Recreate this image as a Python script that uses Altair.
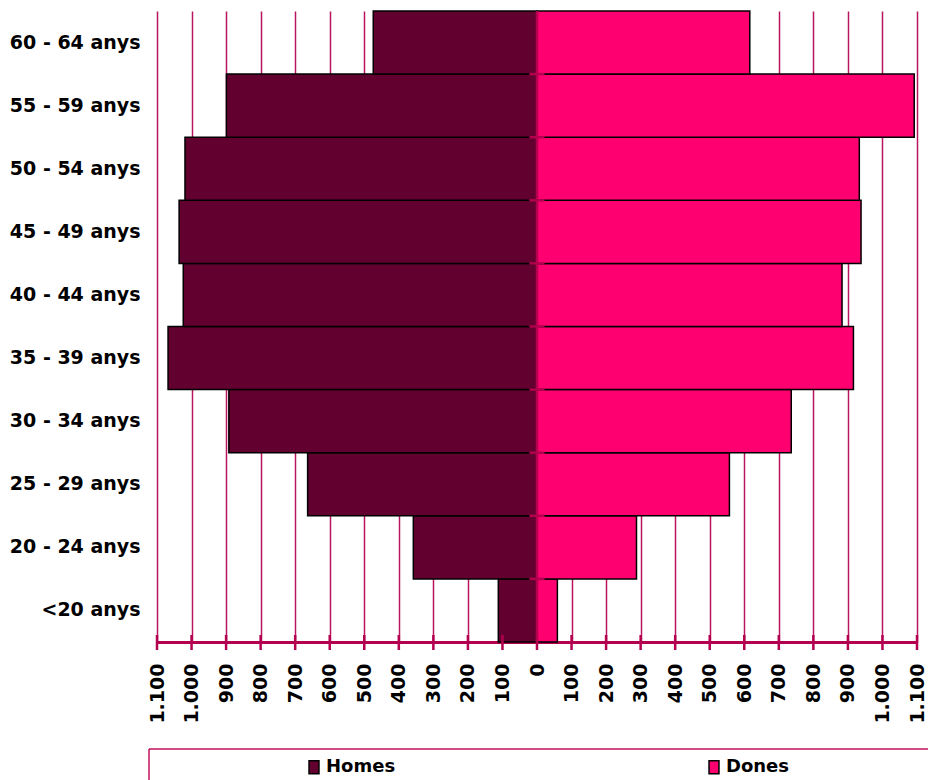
import altair as alt
import pandas as pd

# ---- data ----
ages = ["<20 anys", "20 - 24 anys", "25 - 29 anys", "30 - 34 anys", "35 - 39 anys",
        "40 - 44 anys", "45 - 49 anys", "50 - 54 anys", "55 - 59 anys", "60 - 64 anys"]
homes = [112, 358, 664, 892, 1068, 1024, 1036, 1019, 899, 474]
dones = [59, 288, 557, 736, 916, 883, 938, 933, 1092, 616]
sexes = ["Homes", "Dones"]
colors = ["#620030", "#FF0070"]
x_ticks = list(range(-1100, 1101, 100))

rows = []
for a, h, d in zip(ages, homes, dones):
    rows.append({"age": a, "sexe": "Homes", "valor": -h})
    rows.append({"age": a, "sexe": "Dones", "valor": d})
df = pd.DataFrame(rows)
order = ages[::-1]

CRIMSON = "#B3004F"
FONT = "DejaVu Sans"

xscale = alt.Scale(domain=[-1100, 1100], nice=False, zero=False)
yscale = alt.Scale(paddingInner=0, paddingOuter=0)

xaxis = alt.Axis(
    values=x_ticks, title=None, grid=True, gridColor="#BA1460", gridWidth=1.5,
    domainColor=CRIMSON, domainWidth=3, ticks=False,
    labelAngle=270, labelFont=FONT, labelFontWeight="bold", labelFontSize=19,
    labelColor="black", labelPadding=21, labelOverlap=False, labelFlush=False,
    labelExpr="replace(format(abs(datum.value), ',d'), ',', '.') + '\u00a0'", zindex=0)
yaxis = alt.Axis(
    title=None, domain=False, ticks=False, grid=False, labelFont=FONT,
    labelFontWeight="bold", labelFontSize=19, labelColor="black", labelPadding=17)

bars = alt.Chart(df).mark_bar(stroke="black", strokeWidth=1.5).encode(
    x=alt.X("valor:Q", scale=xscale, axis=xaxis),
    y=alt.Y("age:N", sort=order, scale=yscale, axis=yaxis),
    color=alt.Color("sexe:N", scale=alt.Scale(domain=sexes, range=colors), legend=alt.Legend(
        orient="none", legendX=148, legendY=747, direction="horizontal", title=None,
        columnPadding=309, labelOffset=3, symbolType="M-0.71,-0.93H0.71V0.93H-0.71Z",
        symbolSize=196, symbolStrokeColor="black", symbolStrokeWidth=1.5,
        labelFont=FONT, labelFontWeight="bold", labelFontSize=18, labelColor="black",
        padding=0)),
)

zero_df = pd.DataFrame({"valor": [0]})
zero_line = alt.Chart(zero_df).mark_rule(color=CRIMSON, strokeWidth=2.5).encode(
    x=alt.X("valor:Q", scale=xscale, axis=xaxis)
)

# short marks across the zero line at each row boundary
tick_df = pd.DataFrame({"age": ages[:-1], "valor": [-22] * (len(ages) - 1),
                        "valor2": [22] * (len(ages) - 1)})
center_ticks = alt.Chart(tick_df).mark_rule(color=CRIMSON, strokeWidth=2.5).encode(
    x=alt.X("valor:Q", scale=xscale, axis=xaxis),
    x2="valor2:Q",
    y=alt.Y("age:N", sort=order, bandPosition=0, axis=yaxis),
)

# tick marks crossing the bottom axis line
xt_df = pd.DataFrame({"valor": x_ticks})
x_tickmarks = alt.Chart(xt_df).mark_rule(color=CRIMSON, strokeWidth=2.5).encode(
    x=alt.X("valor:Q", scale=xscale, axis=xaxis),
    y=alt.value(624),
    y2=alt.value(639),
)

frame_df = pd.DataFrame({"f": [0]})
frame_top = alt.Chart(frame_df).mark_rule(color="#C0105A", strokeWidth=1.5).encode(
    x=alt.value(-8), x2=alt.value(771), y=alt.value(738)
)
frame_left = alt.Chart(frame_df).mark_rule(color="#C0105A", strokeWidth=1.5).encode(
    x=alt.value(-8), y=alt.value(738), y2=alt.value(790)
)

chart = alt.layer(bars, zero_line, center_ticks, x_tickmarks, frame_top, frame_left).properties(
    width=760, height=631,
    padding={"left": 149, "top": 3, "right": 11, "bottom": 138},
    autosize=alt.AutoSizeParams(type="none"),
).configure_view(strokeWidth=0)

chart.save("out.html", embed_options={"renderer": "svg", "actions": False})
